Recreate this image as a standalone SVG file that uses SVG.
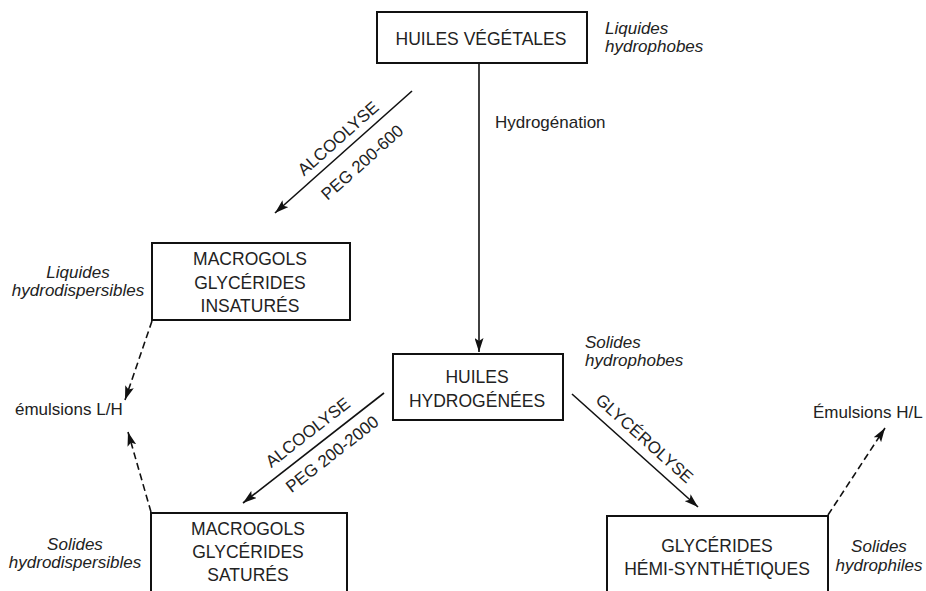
<svg xmlns="http://www.w3.org/2000/svg" width="926" height="591" viewBox="0 0 926 591">
<style>
  .box { fill: #fff; stroke: #111; stroke-width: 2; }
  .bt { font-family: "Liberation Sans", Arial, sans-serif; font-size: 17.5px; fill: #222; text-anchor: middle; }
  .it { font-family: "Liberation Sans", Arial, sans-serif; font-size: 17px; font-style: italic; fill: #222; }
  .lb { font-family: "Liberation Sans", Arial, sans-serif; font-size: 17px; fill: #222; }
  .ln { stroke: #111; stroke-width: 1.6; fill: none; marker-end: url(#ah); }
  .dl { stroke: #111; stroke-width: 1.6; fill: none; stroke-dasharray: 7 4; marker-end: url(#ah); }
</style>
<defs>
  <marker id="ah" markerUnits="userSpaceOnUse" markerWidth="15" markerHeight="9" refX="14" refY="4.5" orient="auto">
    <path d="M0,0 L14,4.5 L0,9 L3,4.5 z" fill="#111"/>
  </marker>
</defs>

<g id="connectors">
  <line class="ln" x1="479" y1="63" x2="479" y2="352"/>
  <line class="ln" x1="412" y1="91" x2="275" y2="213"/>
  <line class="ln" x1="384" y1="393" x2="243" y2="503"/>
  <line class="ln" x1="572" y1="394" x2="698" y2="507"/>
  <line class="dl" x1="152" y1="321" x2="125" y2="400"/>
  <line class="dl" x1="151" y1="512" x2="128" y2="432"/>
  <line class="dl" x1="828" y1="515" x2="885" y2="428"/>
  <text class="lb" x="495" y="128">Hydrogénation</text>
  <g transform="translate(343.5,152) rotate(-41.7)">
    <text class="lb" x="5" y="-8" text-anchor="middle">ALCOOLYSE</text>
    <text class="lb" x="7" y="26" text-anchor="middle">PEG 200-600</text>
  </g>
  <g transform="translate(313.5,448) rotate(-38)">
    <text class="lb" x="5" y="-10" text-anchor="middle">ALCOOLYSE</text>
    <text class="lb" x="11" y="22" text-anchor="middle">PEG 200-2000</text>
  </g>
  <g transform="translate(635,450.5) rotate(41.9)">
    <text class="lb" x="-1" y="-9.5" text-anchor="middle">GLYCÉROLYSE</text>
  </g>
</g>

<g id="huiles-vegetales">
  <rect class="box" x="377" y="12" width="210" height="51"/>
  <text class="bt" x="481" y="45">HUILES VÉGÉTALES</text>
  <text class="it" x="605" y="34">Liquides</text>
  <text class="it" x="605" y="52">hydrophobes</text>
</g>

<g id="macrogols-insatures">
  <rect class="box" x="152" y="243" width="198" height="77"/>
  <text class="bt" x="250" y="265">MACROGOLS</text>
  <text class="bt" x="250" y="289">GLYCÉRIDES</text>
  <text class="bt" x="250" y="312">INSATURÉS</text>
  <text class="it" x="78" y="278" text-anchor="middle">Liquides</text>
  <text class="it" x="78" y="296" text-anchor="middle">hydrodispersibles</text>
</g>

<g id="huiles-hydrogenees">
  <rect class="box" x="393" y="354" width="170" height="66"/>
  <text class="bt" x="477" y="383">HUILES</text>
  <text class="bt" x="477" y="407">HYDROGÉNÉES</text>
  <text class="it" x="585" y="348">Solides</text>
  <text class="it" x="585" y="366">hydrophobes</text>
</g>

<g id="emulsions-lh">
  <text class="lb" x="15" y="415">émulsions L/H</text>
</g>

<g id="emulsions-hl">
  <text class="lb" x="813" y="418">Émulsions H/L</text>
</g>

<g id="macrogols-satures">
  <rect class="box" x="151" y="513" width="196" height="90"/>
  <text class="bt" x="248" y="535">MACROGOLS</text>
  <text class="bt" x="248" y="558">GLYCÉRIDES</text>
  <text class="bt" x="248" y="581">SATURÉS</text>
  <text class="it" x="75" y="550" text-anchor="middle">Solides</text>
  <text class="it" x="75" y="568" text-anchor="middle">hydrodispersibles</text>
</g>

<g id="glycerides-hemi">
  <rect class="box" x="607" y="516" width="221" height="90"/>
  <text class="bt" x="717" y="552">GLYCÉRIDES</text>
  <text class="bt" x="717" y="575">HÉMI-SYNTHÉTIQUES</text>
  <text class="it" x="879" y="552" text-anchor="middle">Solides</text>
  <text class="it" x="879" y="571" text-anchor="middle">hydrophiles</text>
</g>
</svg>
